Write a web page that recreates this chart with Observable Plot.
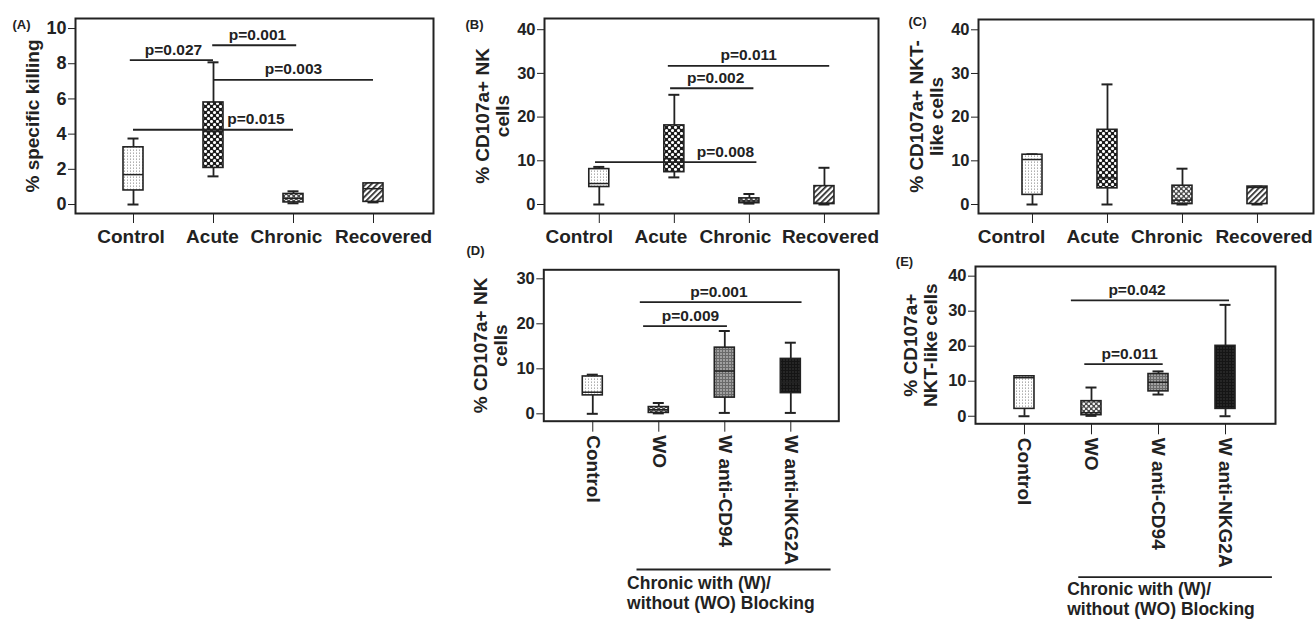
<!DOCTYPE html>
<html>
<head>
<meta charset="utf-8">
<script src="https://cdn.jsdelivr.net/npm/d3@7"></script>
<script src="https://cdn.jsdelivr.net/npm/@observablehq/plot@0.6"></script>
<style>
html, body { margin: 0; padding: 0; background: #fff; }
#fig { position: relative; width: 1315px; height: 619px; overflow: hidden; font-family: "Liberation Sans", Arial, sans-serif; }
.panel { position: absolute; }
</style>
</head>
<body>
<svg width="0" height="0" style="position:absolute">
  <defs>
    <pattern id="pat-control" width="3" height="3" patternUnits="userSpaceOnUse">
      <rect width="3" height="3" fill="#fff"/>
      <rect x="1" y="0" width="1" height="1" fill="#b0b0b0"/>
      <rect x="1" y="2" width="1" height="1" fill="#cfcfcf"/>
    </pattern>
    <pattern id="pat-acute" width="6" height="6" patternUnits="userSpaceOnUse">
      <rect width="6" height="6" fill="#1c1c1c"/>
      <circle cx="1.5" cy="1.5" r="1.55" fill="#fff"/>
      <circle cx="4.5" cy="4.5" r="1.55" fill="#fff"/>
    </pattern>
    <pattern id="pat-chronic" width="5" height="5" patternUnits="userSpaceOnUse">
      <rect width="5" height="5" fill="#4a4a4a"/>
      <circle cx="1.25" cy="1.25" r="1.3" fill="#f4f4f4"/>
      <circle cx="3.75" cy="3.75" r="1.3" fill="#f4f4f4"/>
    </pattern>
    <pattern id="pat-recovered" width="4" height="4" patternUnits="userSpaceOnUse" patternTransform="rotate(45)">
      <rect width="4" height="4" fill="#fff"/>
      <rect width="1.7" height="4" fill="#262626"/>
    </pattern>
    <pattern id="pat-cd94" width="3" height="3" patternUnits="userSpaceOnUse">
      <rect width="3" height="3" fill="#a0a0a0"/>
      <rect width="3" height="1" fill="#6a6a6a"/>
      <rect width="1" height="3" fill="#6a6a6a"/>
    </pattern>
    <pattern id="pat-nkg2a" width="3" height="3" patternUnits="userSpaceOnUse">
      <rect width="3" height="3" fill="#262626"/>
      <rect width="3" height="1" fill="#151515"/>
      <rect width="1" height="3" fill="#151515"/>
    </pattern>
  </defs>
</svg>
<div id="fig"></div>
<script>
// ---------- data ----------
const groupsABC = ["Control", "Acute", "Chronic", "Recovered"];
const groupsDE = ["Control", "WO", "W anti-CD94", "W anti-NKG2A"];

// five-number summaries per group: [min, Q1, median, Q3, max]
const killingA = [[0, 0.8, 1.7, 3.25, 3.75], [1.6, 2.08, 4.15, 5.8, 8.08], [0.07, 0.12, 0.35, 0.6, 0.75], [0.12, 0.15, 0.9, 1.2, 1.2]];
const nkB = [[0, 4, 4.8, 8.1, 8.6], [6.2, 7.4, 10.5, 18.1, 25.1], [0.2, 0.3, 0.8, 1.4, 2.4], [0, 0.1, 0.3, 4.2, 8.4]];
const nktC = [[0, 2.2, 10.3, 11.4, 11.5], [0, 3.7, 6.1, 17.1, 27.5], [0, 0.1, 1.0, 4.3, 8.2], [0, 0.1, 3.9, 4.1, 4.1]];
const nkD = [[0, 4.1, 4.8, 8.3, 8.7], [0.1, 0.2, 0.9, 1.5, 2.4], [0.2, 3.6, 9.5, 14.7, 18.4], [0.2, 4.6, 7.0, 12.2, 15.8]];
const nktE = [[0, 2.1, 11.0, 11.4, 11.4], [0.1, 0.3, 1.0, 4.3, 8.2], [6.2, 7.1, 9.7, 12.05, 12.8], [0, 2.1, 11.1, 20.1, 31.8]];

// significance brackets (group-index span, height in data units)
const sigA = [
  {label: "p=0.027", from: -0.04, to: 1.0, y: 8.2, at: 0.5},
  {label: "p=0.001", from: 0.99, to: 2.04, y: 9.05, at: 1.55},
  {label: "p=0.003", from: 1.0, to: 3.0, y: 7.08, at: 2.0},
  {label: "p=0.015", from: 0.0, to: 2.0, y: 4.25, at: 1.53}
];
const sigB = [
  {label: "p=0.011", from: 0.92, to: 3.07, y: 31.7, at: 1.99},
  {label: "p=0.002", from: 0.95, to: 2.06, y: 26.6, at: 1.55},
  {label: "p=0.008", from: -0.05, to: 2.1, y: 9.7, at: 1.68}
];
const sigC = [];
const sigD = [
  {label: "p=0.001", from: 0.72, to: 3.17, y: 24.8, at: 1.91},
  {label: "p=0.009", from: 0.77, to: 2.04, y: 19.5, at: 1.48}
];
const sigE = [
  {label: "p=0.042", from: 0.70, to: 3.06, y: 33.1, at: 1.68},
  {label: "p=0.011", from: 0.90, to: 2.07, y: 14.9, at: 1.57}
];

const ticksA = [0, 2, 4, 6, 8, 10];
const ticks40 = [0, 10, 20, 30, 40];
const ticks30 = [0, 10, 20, 30];

const yLabels = ["% specific killing", "% CD107a+ NK\ncells", "% CD107a+ NKT-\nlike cells", "% CD107a+ NK\ncells", "% CD107a+\nNKT-like cells"];
const panelTags = ["(A)", "(B)", "(C)", "(D)", "(E)"];
const blockingNote = "Chronic with (W)/\nwithout (WO) Blocking";

// ---------- styling / layout ----------
const fillsABC = ["url(#pat-control)", "url(#pat-acute)", "url(#pat-chronic)", "url(#pat-recovered)"];
const fillsDE = ["url(#pat-control)", "url(#pat-chronic)", "url(#pat-cd94)", "url(#pat-nkg2a)"];
const FONT = "'Liberation Sans', Arial, Helvetica, sans-serif";
const INK = "#222";

const panels = [
  {tag: panelTags[0], ylabel: yLabels[0], groups: groupsABC, stats: killingA, sig: sigA, fills: fillsABC, ticks: ticksA,
   left: 0, top: 0, width: 440, height: 250, mL: 75, mR: 7, mT: 18, mB: 37,
   xd: [-0.725, 3.75], step: 80, yd: [-0.51, 10.57], tickFont: 18, ylDx: -43, tagDx: -54, tagDy: 6,
   labelShift: [-2.5, -1, -7, 10]},
  {tag: panelTags[1], ylabel: yLabels[1], groups: groupsABC, stats: nkB, sig: sigB, fills: fillsABC, ticks: ticks40,
   left: 440, top: 0, width: 440, height: 250, mL: 104, mR: 2, mT: 18, mB: 37,
   xd: [-0.73, 3.72], step: 75, yd: [-2.06, 42.56], tickFont: 16.5, ylDx: -52, tagDx: -70, tagDy: 6,
   labelShift: [-20, -13.5, -14, 6]},
  {tag: panelTags[2], ylabel: yLabels[2], groups: groupsABC, stats: nktC, sig: sigC, fills: fillsABC, ticks: ticks40,
   left: 880, top: 0, width: 435, height: 250, mL: 98, mR: 2, mT: 19, mB: 37,
   xd: [-0.72, 3.747], step: 75, yd: [-2.06, 42.36], tickFont: 16.5, ylDx: -52, tagDx: -61, tagDy: 2,
   labelShift: [-21, -14.5, -15.5, 6.5]},
  {tag: panelTags[3], ylabel: yLabels[3], groups: groupsDE, stats: nkD, sig: sigD, fills: fillsDE, ticks: ticks30,
   left: 440, top: 238, width: 440, height: 381, mL: 103.3, mR: 41.7, mT: 31.3, mB: 198.3,
   xd: [-0.742, 3.727], step: 66, yd: [-1.64, 32.0], tickFont: 16.5, ylDx: -53.3, tagDx: -68.3, tagDy: -19.3,
   rotate: true, note: {from: 0.67, to: 3.61, lineDy: 148.3, textAt: 0.52, textDy: 171}},
  {tag: panelTags[4], ylabel: yLabels[4], groups: groupsDE, stats: nktE, sig: sigE, fills: fillsDE, ticks: ticks40,
   left: 880, top: 250, width: 435, height: 369, mL: 95, mR: 40, mT: 16, mB: 195.7,
   xd: [-0.731, 3.746], step: 67, yd: [-2.16, 42.76], tickFont: 16.5, ylDx: -55, tagDx: -71, tagDy: -5,
   rotate: true, note: {from: 0.81, to: 3.70, lineDy: 153.4, textAt: 0.637, textDy: 175}}
];

const fig = document.getElementById("fig");

for (const p of panels) {
  const boxes = p.stats.map((s, i) => ({i, name: p.groups[i], low: s[0], q1: s[1], med: s[2], q3: s[3], high: s[4], fill: p.fills[i]}));
  const hw = 10 / p.step, cw = 5.5 / p.step;
  const marks = [
    Plot.frame({stroke: INK, strokeWidth: 2}),
    Plot.axisY({ticks: p.ticks, tickSize: 7, tickPadding: 2, fontSize: p.tickFont, fontWeight: "bold", color: INK, label: null})
  ];
  if (p.rotate) {
    marks.push(Plot.axisX({
      ticks: d3.range(p.groups.length), tickFormat: i => p.groups[i],
      tickSize: 11, tickPadding: 3, tickRotate: 90,
      fontSize: 19, fontWeight: "bold", color: INK, label: null
    }));
  } else {
    marks.push(
      Plot.axisX({ticks: d3.range(p.groups.length), tickFormat: () => "", tickSize: 10, color: INK, label: null}),
      Plot.text(boxes, {x: d => d.i + p.labelShift[d.i] / p.step, frameAnchor: "bottom", dy: 23.5, text: "name",
        textAnchor: "middle", lineAnchor: "middle", fontSize: 19, fontWeight: "bold", fill: INK})
    );
  }
  marks.push(
    Plot.ruleX(boxes, {x: "i", y1: "low", y2: "high", stroke: INK, strokeWidth: 1.8}),
    Plot.ruleY(boxes, {y: "low", x1: d => d.i - cw, x2: d => d.i + cw, stroke: INK, strokeWidth: 2}),
    Plot.ruleY(boxes, {y: "high", x1: d => d.i - cw, x2: d => d.i + cw, stroke: INK, strokeWidth: 2}),
    Plot.rect(boxes, {x1: d => d.i - hw, x2: d => d.i + hw, y1: "q1", y2: "q3", fill: "fill", stroke: INK, strokeWidth: 1.6}),
    Plot.ruleY(boxes, {y: "med", x1: d => d.i - hw, x2: d => d.i + hw, stroke: INK, strokeWidth: 1.5}),
    Plot.ruleY(p.sig, {y: "y", x1: "from", x2: "to", stroke: INK, strokeWidth: 1.8}),
    Plot.text(p.sig, {x: "at", y: "y", text: "label", dy: -10.5, fontSize: 15.5, fontWeight: "bold", fill: INK}),
    Plot.text([p.ylabel], {frameAnchor: "left", text: d => d, rotate: -90, dx: p.ylDx, textAnchor: "middle", lineAnchor: "middle",
      lineHeight: 1.05, fontSize: 19, fontWeight: "bold", fill: INK}),
    Plot.text([p.tag], {frameAnchor: "top-left", text: d => d, dx: p.tagDx, dy: p.tagDy, textAnchor: "middle", lineAnchor: "middle",
      fontSize: 13, fontWeight: "bold", fill: INK})
  );
  if (p.note) {
    const n = p.note;
    marks.push(
      Plot.ruleY([n], {y: () => p.yd[0], x1: "from", x2: "to", dy: n.lineDy, stroke: INK, strokeWidth: 1.8}),
      Plot.text([blockingNote], {x: () => n.textAt, y: () => p.yd[0], dy: n.textDy, text: d => d, textAnchor: "start", lineAnchor: "middle",
        lineHeight: 1.14, fontSize: 17.5, fontWeight: "bold", fill: INK})
    );
  }
  const svg = Plot.plot({
    width: p.width, height: p.height,
    marginLeft: p.mL, marginRight: p.mR, marginTop: p.mT, marginBottom: p.mB,
    x: {type: "linear", domain: p.xd, label: null},
    y: {type: "linear", domain: p.yd, label: null},
    color: {type: "identity"},
    style: {background: "transparent", fontFamily: FONT, overflow: "visible"},
    marks
  });
  const wrap = document.createElement("div");
  wrap.className = "panel";
  wrap.style.left = p.left + "px";
  wrap.style.top = p.top + "px";
  wrap.appendChild(svg);
  fig.appendChild(wrap);
}
</script>
</body>
</html>
